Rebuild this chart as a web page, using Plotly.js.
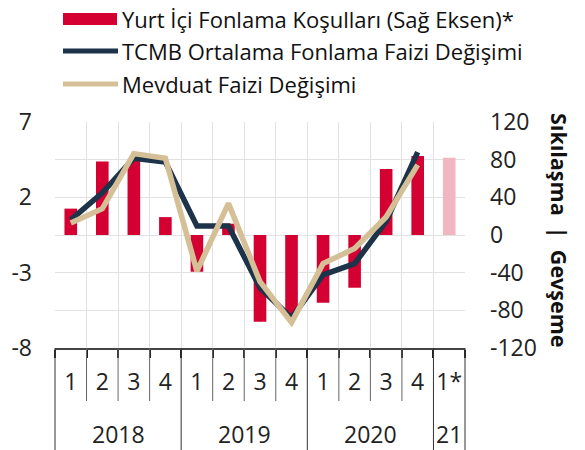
<!DOCTYPE html>
<html>
<head>
<meta charset="utf-8">
<script src="https://cdn.plot.ly/plotly-3.0.1.min.js"></script>
<style>html,body{margin:0;padding:0;background:#fff}#chart{width:585px;height:450px}</style>
</head>
<body>
<div id="chart"></div>
<script>
// ---- data ----
var years = ['2018','2018','2018','2018','2019','2019','2019','2019','2020','2020','2020','2020','21'];
var quarters = ['1','2','3','4','1','2','3','4','1','2','3','4','1*'];
var yearGroups = ['2018','2019','2020','21'];
var domesticFunding = [28, 78, 80, 19, -39, 12, -92, -86, -72, -56, 70, 84, 82];
var tcmbRateChange = [0.5, 2.3, 4.6, 4.35, 0.1, 0.1, -4.0, -6.0, -3.15, -2.4, 0.4, 5.0, null];
var depositRateChange = [0.3, 1.25, 4.9, 4.6, -2.9, 1.6, -3.6, -6.3, -2.4, -1.4, 0.7, 4.15, null];
var leftTicks = [-8, -3, 2, 7];
var leftTickText = ['-8', '-3', '2', '7'];
var rightTicks = [-120, -80, -40, 0, 40, 80, 120];
var rightTickText = ['-120', '-80', '-40', '0', '40', '80', '120'];
var seriesNames = ['Yurt İçi Fonlama Koşulları (Sağ Eksen)*', 'TCMB Ortalama Fonlama Faizi Değişimi', 'Mevduat Faizi Değişimi'];
var rightTitleParts = ['Sıkılaşma', '|', 'Gevşeme'];

// ---- layout helpers ----
var W = 585, H = 450, L = 55, R = 465, T = 122, B = 348;
function px(x) { return (x - L) / (R - L); }
function py(y) { return (B - y) / (B - T); }

var cats = years.map(function (y, i) { return y + '-' + quarters[i]; });
var RED = '#d50032', PINK = '#f2b5c2', NAVY = '#1d334a', TAN = '#d5bf97';
var barColors = quarters.map(function (q) { return q.indexOf('*') >= 0 ? PINK : RED; });
var FONT = 'Open Sans, Noto Sans, sans-serif';

var traces = [
  { type: 'bar', x: cats, y: domesticFunding, yaxis: 'y', marker: { color: barColors }, width: 0.4,
    name: seriesNames[0], hoverinfo: 'y' },
  { type: 'scatter', mode: 'lines', x: cats, y: tcmbRateChange, yaxis: 'y2',
    line: { color: NAVY, width: 5.5 }, name: seriesNames[1] },
  { type: 'scatter', mode: 'lines', x: cats, y: depositRateChange, yaxis: 'y2',
    line: { color: TAN, width: 5.5 }, name: seriesNames[2] }
];

var n = cats.length;
var shapes = [];
var annotations = [];
// quarter separators and year dividers
for (var k = 0; k <= n; k++) {
  var isYearBoundary = (k === 0 || k === n || years[k] !== years[k - 1]);
  shapes.push({ type: 'line', xref: 'paper', yref: 'paper', x0: k / n, x1: k / n,
    y0: 0, y1: isYearBoundary ? py(450) : py(401),
    line: { color: isYearBoundary ? '#333' : '#666', width: 1 } });
}
// year labels
yearGroups.forEach(function (g) {
  var idx = []; years.forEach(function (y, i) { if (y === g) idx.push(i); });
  var c = (idx[0] + idx[idx.length - 1] + 1) / 2 / n;
  annotations.push({ xref: 'paper', yref: 'paper', x: c, y: py(434), text: g, showarrow: false,
    xanchor: 'center', yanchor: 'middle', borderpad: 0,
    font: { family: FONT, size: 23, color: '#222' } });
});
// manual legend
var legY = [19, 51, 84];
shapes.push({ type: 'rect', xref: 'paper', yref: 'paper', x0: px(63), x1: px(117), y0: py(13), y1: py(25),
  fillcolor: RED, line: { width: 0 } });
shapes.push({ type: 'line', xref: 'paper', yref: 'paper', x0: px(63), x1: px(118), y0: py(legY[1]), y1: py(legY[1]),
  line: { color: NAVY, width: 5 } });
shapes.push({ type: 'line', xref: 'paper', yref: 'paper', x0: px(63), x1: px(118), y0: py(legY[2]), y1: py(legY[2]),
  line: { color: TAN, width: 5 } });
seriesNames.forEach(function (s, i) {
  annotations.push({ xref: 'paper', yref: 'paper', x: px(120), y: py(legY[i]), text: s, showarrow: false,
    xanchor: 'left', yanchor: 'middle', font: { family: FONT, size: 22, color: '#111' } });
});
// right axis title
annotations.push({ xref: 'paper', yref: 'paper', x: px(560), y: py(230),
  text: '<b>' + rightTitleParts.join('\u00a0\u00a0') + '</b>',
  showarrow: false, textangle: 90, xanchor: 'center', yanchor: 'middle',
  font: { family: FONT, size: 21.5, color: '#111' } });

var layout = {
  width: W, height: H,
  margin: { l: L, r: W - R, t: T, b: H - B, pad: 0 },
  paper_bgcolor: '#fff', plot_bgcolor: '#fff',
  showlegend: false,
  font: { family: FONT, size: 23, color: '#222' },
  xaxis: {
    type: 'category', categoryorder: 'array', categoryarray: cats,
    tickvals: cats, ticktext: quarters, tickson: 'boundaries', tickangle: 0,
    ticks: 'outside', ticklen: 8, tickwidth: 2, tickcolor: '#222',
    showgrid: true, gridcolor: '#e2e2e2', gridwidth: 1,
    showline: true, linecolor: '#444', linewidth: 1.5,
    tickfont: { family: FONT, size: 23, color: '#222' },
    ticklabelstandoff: 13, range: [-0.5, n - 0.5], fixedrange: true, zeroline: false
  },
  yaxis: {
    side: 'right', range: [-120, 120], tickvals: rightTicks, ticktext: rightTickText,
    showgrid: true, gridcolor: '#e2e2e2', gridwidth: 1, zeroline: false,
    tickfont: { family: FONT, size: 23, color: '#222' }, ticks: '', ticklabelstandoff: 24,
    fixedrange: true
  },
  yaxis2: {
    side: 'left', overlaying: 'y', range: [-8, 7], tickvals: leftTicks, ticktext: leftTickText,
    showgrid: false, zeroline: false,
    tickfont: { family: FONT, size: 23, color: '#222' }, ticks: '', ticklabelstandoff: 22,
    fixedrange: true
  },
  bargap: 0.6,
  shapes: shapes,
  annotations: annotations
};

Plotly.newPlot('chart', traces, layout, { displayModeBar: false, staticPlot: true });
</script>
</body>
</html>
